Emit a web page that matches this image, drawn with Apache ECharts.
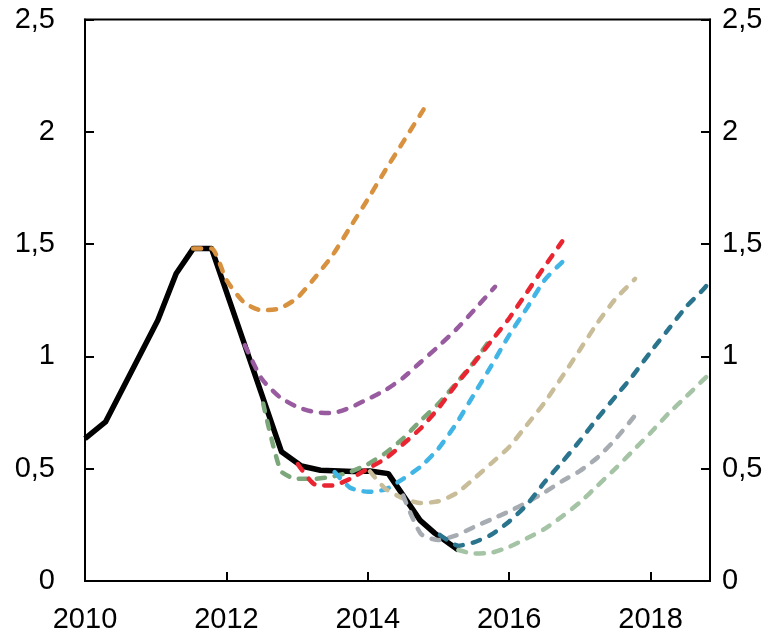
<!DOCTYPE html>
<html>
<head>
<meta charset="utf-8">
<script src="https://cdn.jsdelivr.net/npm/echarts@6/dist/echarts.min.js"></script>
<style>
html,body{margin:0;padding:0;background:#fff;}
#chart{width:784px;height:636px;}
</style>
</head>
<body>
<div id="chart"></div>
<script>
// Outcome (solid black)
var outcome = [[2010.0,0.634],[2010.29,0.708],[2011.03,1.161],[2011.29,1.369],[2011.53,1.48],[2011.79,1.48],[2012.78,0.575],[2013.06,0.512],[2013.33,0.493],[2013.79,0.488],[2014.03,0.49],[2014.29,0.478],[2014.74,0.27],[2014.95,0.212],[2015.28,0.138]];
// Forecast paths (dashed)
var fcOrange = [[2011.53,1.48],[2011.79,1.48],[2012.0,1.34],[2012.25,1.24],[2012.5,1.205],[2012.75,1.213],[2013.0,1.26],[2013.25,1.35],[2013.5,1.45],[2013.75,1.575],[2014.0,1.70],[2014.25,1.83],[2014.5,1.955],[2014.79,2.10]];
var fcPurple = [[2012.26,1.05],[2012.5,0.90],[2012.75,0.82],[2013.0,0.775],[2013.25,0.752],[2013.5,0.748],[2013.75,0.772],[2014.0,0.81],[2014.25,0.85],[2014.5,0.905],[2014.75,0.975],[2015.0,1.045],[2015.25,1.12],[2015.5,1.205],[2015.8,1.31]];
var fcGreen = [[2012.52,0.79],[2012.77,0.49],[2013.0,0.455],[2013.25,0.455],[2013.5,0.465],[2013.75,0.485],[2014.0,0.52],[2014.25,0.57],[2014.5,0.635],[2014.75,0.715],[2015.0,0.79],[2015.25,0.88],[2015.5,0.975],[2015.72,1.07]];
var fcRed = [[2013.01,0.52],[2013.25,0.43],[2013.5,0.425],[2013.75,0.455],[2014.0,0.50],[2014.25,0.545],[2014.5,0.61],[2014.75,0.68],[2015.0,0.77],[2015.25,0.875],[2015.5,0.97],[2015.75,1.07],[2016.0,1.17],[2016.25,1.285],[2016.5,1.40],[2016.75,1.512]];
var fcBlue = [[2013.53,0.485],[2013.75,0.415],[2014.0,0.397],[2014.25,0.408],[2014.5,0.455],[2014.75,0.51],[2015.0,0.59],[2015.25,0.70],[2015.5,0.83],[2015.75,0.96],[2016.0,1.095],[2016.25,1.215],[2016.5,1.34],[2016.75,1.42]];
var fcTan = [[2014.03,0.488],[2014.25,0.41],[2014.5,0.368],[2014.75,0.347],[2015.0,0.355],[2015.25,0.39],[2015.5,0.455],[2015.75,0.525],[2016.0,0.597],[2016.25,0.695],[2016.5,0.795],[2016.75,0.91],[2017.0,1.03],[2017.25,1.15],[2017.5,1.255],[2017.78,1.345]];
var fcGray = [[2014.5,0.38],[2014.75,0.21],[2015.0,0.182],[2015.25,0.203],[2015.5,0.24],[2015.75,0.275],[2016.0,0.31],[2016.25,0.35],[2016.5,0.395],[2016.75,0.445],[2017.0,0.49],[2017.25,0.55],[2017.5,0.63],[2017.8,0.745]];
var fcTeal = [[2015.02,0.205],[2015.28,0.157],[2015.5,0.172],[2015.75,0.207],[2016.0,0.265],[2016.25,0.34],[2016.5,0.44],[2016.75,0.53],[2017.0,0.625],[2017.25,0.725],[2017.5,0.82],[2017.75,0.915],[2018.0,1.02],[2018.25,1.12],[2018.5,1.22],[2018.75,1.30],[2018.84,1.335]];
var fcLightGreen = [[2015.28,0.138],[2015.5,0.122],[2015.75,0.126],[2016.0,0.152],[2016.25,0.19],[2016.5,0.232],[2016.75,0.288],[2017.0,0.35],[2017.25,0.425],[2017.5,0.50],[2017.75,0.58],[2018.0,0.66],[2018.25,0.745],[2018.5,0.82],[2018.84,0.925]];

var xMin = 2010, xMax = 2018.84, xStep = 2;
var yMin = 0, yMax = 2.5, yStep = 0.5;

var dashed = [
  {data: fcOrange, color: '#D8913E'},
  {data: fcPurple, color: '#985B9F'},
  {data: fcGreen, color: '#7CA77A'},
  {data: fcRed, color: '#E82530'},
  {data: fcBlue, color: '#41B5E5'},
  {data: fcTan, color: '#C9BD99'},
  {data: fcGray, color: '#A6ACB1'},
  {data: fcTeal, color: '#2A748D'},
  {data: fcLightGreen, color: '#A4C4A5'}
];

var FONT = 'Liberation Sans, Arial, sans-serif';
function yFmt(v){ return String(v).replace('.', ','); }
function xFmt(v){ return (Math.abs(v - Math.round(v)) < 1e-6 && Math.round(v) % 2 === 0) ? String(Math.round(v)) : ''; }

var series = [{
  type: 'line', data: outcome, symbol: 'none', z: 2,
  lineStyle: {color: '#000', width: 5.5, join: 'round'}
}];
dashed.forEach(function(d, i){
  series.push({
    type: 'line', data: d.data, symbol: 'none', z: 3 + i, smooth: 0.2,
    lineStyle: {color: d.color, width: 4.5, type: [8, 10], cap: 'round'}
  });
});

var chart = echarts.init(document.getElementById('chart'), null, {renderer: 'canvas'});
chart.setOption({
  animation: false,
  backgroundColor: '#fff',
  grid: {left: 85, right: 74, top: 19.5, bottom: 55, show: true, borderColor: '#000', borderWidth: 2, backgroundColor: 'transparent'},
  xAxis: {
    type: 'value', min: xMin, max: xMax, interval: xStep,
    axisLine: {show: true, onZero: false, lineStyle: {color: '#000', width: 2}},
    axisTick: {show: true, inside: true, length: 9, lineStyle: {color: '#000', width: 2}},
    axisLabel: {formatter: xFmt, color: '#000', fontSize: 29, fontFamily: FONT, margin: 24, showMaxLabel: false},
    splitLine: {show: false}
  },
  yAxis: [{
    type: 'value', min: yMin, max: yMax, interval: yStep, position: 'left',
    axisLine: {show: true, lineStyle: {color: '#000', width: 2}},
    axisTick: {show: true, inside: true, length: 9, lineStyle: {color: '#000', width: 2}},
    axisLabel: {formatter: yFmt, color: '#000', fontSize: 29, fontFamily: FONT, margin: 30},
    splitLine: {show: false}
  }, {
    type: 'value', min: yMin, max: yMax, interval: yStep, position: 'right',
    axisLine: {show: true, lineStyle: {color: '#000', width: 2}},
    axisTick: {show: true, inside: true, length: 9, lineStyle: {color: '#000', width: 2}},
    axisLabel: {formatter: yFmt, color: '#000', fontSize: 29, fontFamily: FONT, margin: 12},
    splitLine: {show: false}
  }],
  series: series
});
</script>
</body>
</html>
